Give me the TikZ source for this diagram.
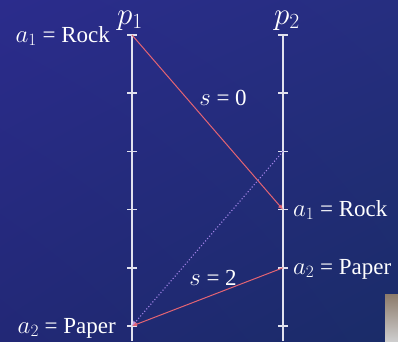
\documentclass[tikz,border=0pt]{standalone}
\usepackage{graphicx}
\usepackage{fontspec}
\setmainfont{Liberation Serif}
\usetikzlibrary{arrows.meta,shadings}
\definecolor{bgTL}{RGB}{43,44,140}
\definecolor{bgTR}{RGB}{38,46,128}
\definecolor{bgBL}{RGB}{34,40,118}
\definecolor{bgBR}{RGB}{26,44,104}
\definecolor{axiscol}{RGB}{225,225,238}
\definecolor{movecol}{RGB}{228,100,115}
\definecolor{dotcol}{RGB}{160,130,230}
\definecolor{photoTop}{RGB}{140,122,106}
\definecolor{photoBot}{RGB}{205,205,205}
\begin{document}
\begin{tikzpicture}[x=1pt,y=-1pt,
  axis/.style={draw=axiscol,line width=1.8pt},
  tick/.style={draw=axiscol,line width=1.5pt},
  lbl/.style={text=white,inner sep=0pt,font=\fontsize{23}{27}\selectfont},
  move/.style={draw=movecol,line width=1pt,-{Latex[length=5pt,width=4.5pt]}},
  dotmove/.style={draw=dotcol,line width=1.1pt,dotted,-{Latex[length=5pt,width=5pt,color=dotcol!70!pink]}}]
\useasboundingbox (0,0) rectangle (398,341);
\shade[upper left=bgTL,upper right=bgTR,lower left=bgBL,lower right=bgBR] (0,0) rectangle (398,341);
\shade[top color=photoTop,bottom color=photoBot] (385,294) rectangle (398,341);
% axes
\foreach \k in {0,...,5} {
  \coordinate (L\k) at (132,{35+58.2*\k});
  \coordinate (R\k) at (283,{35+58.2*\k});
}
\coordinate (Lend) at (132,341);
\coordinate (Rend) at (283,341);
\draw[axis] (L0) -- (Lend);
\draw[axis] (R0) -- (Rend);
\foreach \k in {0,...,5} {
  \draw[tick] ([xshift=-5pt]L\k) -- ([xshift=5pt]L\k);
  \draw[tick] ([xshift=-5pt]R\k) -- ([xshift=5pt]R\k);
}
% labels
\node[lbl,anchor=base] (p1) at (130,24) {\scalebox{1.25}{$p_1$}};
\node[lbl,anchor=base] (p2) at (287,24) {\scalebox{1.25}{$p_2$}};
\node[lbl,anchor=base east] (la1) at (110,42) {$a_1$ = Rock};
\node[lbl,anchor=base east] (la2) at (116,333) {$a_2$ = Paper};
\node[lbl,anchor=base west] (ra1) at (293,216) {$a_1$ = Rock};
\node[lbl,anchor=base west] (ra2) at (293,274) {$a_2$ = Paper};
\node[lbl,anchor=base] (s0) at (223,105) {$s$ = 0};
\node[lbl,anchor=base] (s2) at (213,285) {$s$ = 2};
% moves
\draw[move] (L0) -- (R3);
\draw[dotmove] (R2) -- (L5);
\draw[move] (R4) -- (L5);
\end{tikzpicture}
\end{document}
